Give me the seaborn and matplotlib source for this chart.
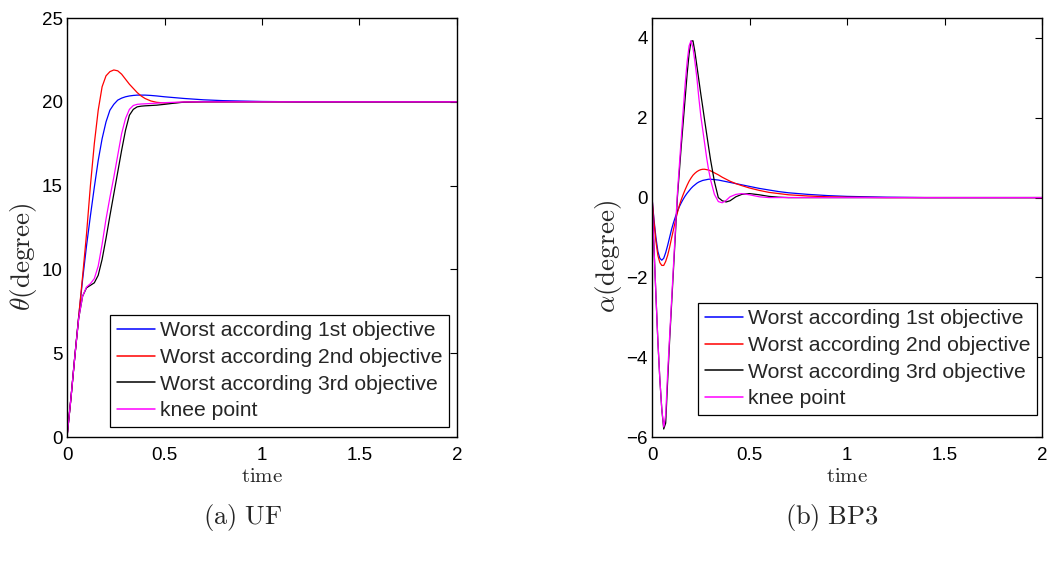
import numpy as np
import pandas as pd
import matplotlib
matplotlib.use("Agg")
import matplotlib.pyplot as plt
import seaborn as sns

# ---------------- data ----------------
series_names = [
    "Worst according 1st objective",
    "Worst according 2nd objective",
    "Worst according 3rd objective",
    "knee point",
]
series_colors = ["#0000ff", "#ff0000", "#000000", "#ff00ff"]

# UF: pitch angle response
t_uf = [0, .02, .04, .06, .08, .10, .12, .14, .16, .18, .20, .22, .24, .26, .28, .30,
        .32, .34, .36, .38, .40, .43, .46, .50, .55, .60, .70, .80, 1.0, 1.2, 1.5, 2.0]
uf_obj1 = [0, 2.3, 4.8, 7.2, 9.4, 11.4, 13.2, 14.9, 16.5, 17.8, 18.8, 19.5, 19.85, 20.1,
           20.22, 20.3, 20.35, 20.38, 20.4, 20.4, 20.4, 20.38, 20.35, 20.3, 20.25, 20.2,
           20.12, 20.07, 20.02, 20.0, 20.0, 20.0]
uf_obj2 = [0, 2.3, 4.8, 7.2, 9.6, 12.1, 15.0, 17.5, 19.5, 20.9, 21.55, 21.8, 21.9, 21.85,
           21.65, 21.35, 21.05, 20.8, 20.55, 20.35, 20.2, 20.05, 19.97, 19.93, 19.95, 19.98,
           20.0, 20.0, 20.0, 20.0, 20.0, 20.0]
uf_obj3 = [0, 2.3, 4.8, 7.1, 8.4, 8.9, 9.05, 9.2, 9.65, 10.6, 11.85, 13.2, 14.5, 15.8,
           17.1, 18.3, 19.2, 19.55, 19.7, 19.74, 19.76, 19.78, 19.8, 19.85, 19.92, 19.98,
           20.0, 20.0, 20.0, 20.0, 20.0, 20.0]
uf_knee = [0, 2.3, 4.8, 7.1, 8.4, 8.95, 9.15, 9.45, 10.2, 11.5, 13.0, 14.3, 15.5, 16.8,
           18.1, 19.0, 19.55, 19.78, 19.85, 19.87, 19.88, 19.9, 19.92, 19.95, 19.97, 19.99,
           20.0, 20.0, 20.0, 20.0, 20.0, 20.0]

# BP3: angle of attack response
t_bp3 = [0, .01, .02, .03, .04, .05, .06, .07, .08, .09, .10, .11, .12, .13, .14, .15,
         .16, .17, .18, .19, .20, .21, .22, .23, .24, .25, .26, .27, .28, .29, .30,
         .32, .34, .36, .38, .40, .43, .46, .50, .55, .60, .65, .70, .80, .90, 1.0,
         1.2, 1.4, 1.6, 2.0]
bp3_obj1 = [0, -0.55, -1.0, -1.35, -1.52, -1.57, -1.52, -1.38, -1.2, -1.0, -0.8, -0.63,
            -0.48, -0.35, -0.23, -0.13, -0.04, 0.04, 0.11, 0.17, 0.23, 0.28, 0.32, 0.36,
            0.39, 0.41, 0.43, 0.44, 0.45, 0.46, 0.46,
            0.45, 0.44, 0.42, 0.40, 0.38, 0.35, 0.32, 0.28, 0.23, 0.19, 0.15, 0.12, 0.08,
            0.05, 0.03, 0.01, 0.0, 0.0, 0.0]
bp3_obj2 = [0, -0.6, -1.1, -1.45, -1.63, -1.7, -1.7, -1.6, -1.45, -1.25, -1.02, -0.8,
            -0.58, -0.38, -0.2, -0.05, 0.08, 0.2, 0.31, 0.41, 0.49, 0.56, 0.61, 0.65,
            0.68, 0.7, 0.71, 0.71, 0.7, 0.69, 0.67,
            0.62, 0.57, 0.51, 0.46, 0.41, 0.35, 0.3, 0.24, 0.18, 0.13, 0.1, 0.07, 0.04,
            0.02, 0.01, 0.0, 0.0, 0.0, 0.0]
bp3_obj3 = [0, -1.25, -2.45, -3.6, -4.55, -5.3, -5.8, -5.65, -4.6, -3.6, -2.7, -1.8,
            -0.9, 0.0, 0.65, 1.3, 1.9, 2.5, 3.1, 3.6, 3.92, 3.93, 3.65, 3.3, 2.95, 2.6,
            2.27, 1.93, 1.6, 1.27, 0.95,
            0.4, 0.0, -0.08, -0.11, -0.08, 0.02, 0.08, 0.1, 0.07, 0.03, 0.01, 0.0, 0.0,
            0.0, 0.0, 0.0, 0.0, 0.0, 0.0]
bp3_knee = [0, -1.25, -2.45, -3.6, -4.55, -5.3, -5.75, -5.45, -4.4, -3.5, -2.6, -1.7,
            -0.8, 0.1, 0.8, 1.5, 2.2, 2.85, 3.4, 3.8, 3.93, 3.75, 3.4, 3.0, 2.5, 2.05,
            1.7, 1.35, 1.0, 0.7, 0.45,
            0.08, -0.1, -0.13, -0.07, 0.02, 0.08, 0.1, 0.07, 0.02, 0.0, 0.0, 0.0, 0.0,
            0.0, 0.0, 0.0, 0.0, 0.0, 0.0]

x_ticks = [0, 0.5, 1, 1.5, 2]
x_ticklabels = ["0", "0.5", "1", "1.5", "2"]
uf_yticks = [0, 5, 10, 15, 20, 25]
uf_yticklabels = ["0", "5", "10", "15", "20", "25"]
bp3_yticks = [-6, -4, -2, 0, 2, 4]
bp3_yticklabels = ["\u22126", "\u22124", "\u22122", "0", "2", "4"]


def long_frame(t, columns):
    parts = []
    for name, vals in zip(series_names, columns):
        parts.append(pd.DataFrame({"time": t, "value": vals, "series": name}))
    return pd.concat(parts, ignore_index=True)


df_uf = long_frame(t_uf, [uf_obj1, uf_obj2, uf_obj3, uf_knee])
df_bp3 = long_frame(t_bp3, [bp3_obj1, bp3_obj2, bp3_obj3, bp3_knee])

# ---------------- style ----------------
sns.set_style("white")
plt.rcParams["font.family"] = ["Liberation Sans", "DejaVu Sans"]
plt.rcParams["mathtext.fontset"] = "cm"

fig = plt.figure(figsize=(10.52, 5.63), dpi=100)
ax1 = fig.add_axes([0.0637, 0.2238, 0.3707, 0.7442])
ax2 = fig.add_axes([0.6198, 0.2238, 0.3707, 0.7442])

palette = dict(zip(series_names, series_colors))


def draw(ax, df, yticks, yticklabels, ylim, ylabel, ylabel_xy, legend_xy):
    sns.lineplot(data=df, x="time", y="value", hue="series", hue_order=series_names,
                 palette=palette, estimator=None, sort=False, linewidth=0.9,
                 legend=False, ax=ax)
    ax.set_xlim(0, 2)
    ax.set_ylim(*ylim)
    ax.set_xticks(x_ticks)
    ax.set_xticklabels(x_ticklabels)
    ax.set_yticks(yticks)
    ax.set_yticklabels(yticklabels)
    ax.tick_params(direction="in", length=5, width=0.8, top=True, right=True,
                   labelsize=13.5, colors="black")
    ax.tick_params(axis="x", pad=7)
    ax.tick_params(axis="y", pad=3)
    for sp in ax.spines.values():
        sp.set_visible(True)
        sp.set_color("black")
        sp.set_linewidth(1.0)
    ax.set_xlabel(r"$\mathrm{time}$", fontsize=15)
    ax.xaxis.set_label_coords(0.5, -0.072)
    ax.set_ylabel(ylabel, fontsize=19.5)
    ax.yaxis.set_label_coords(*ylabel_xy)
    handles = ax.lines[:4]
    leg = ax.legend(handles, series_names, loc="lower left",
                    bbox_to_anchor=legend_xy, bbox_transform=ax.transAxes,
                    borderaxespad=0, fontsize=15.2, frameon=True, fancybox=False,
                    framealpha=1, edgecolor="black", handlelength=1.8,
                    handletextpad=0.25, labelspacing=0.36, borderpad=0.32)
    leg.get_frame().set_linewidth(0.9)
    for line in leg.get_lines():
        line.set_linewidth(1.1)


draw(ax1, df_uf, uf_yticks, uf_yticklabels, (0, 25),
     r"$\theta\mathrm{(degree)}$", (-0.072, 0.43), (0.110, 0.024))
draw(ax2, df_bp3, bp3_yticks, bp3_yticklabels, (-6, 4.5),
     r"$\alpha\mathrm{(degree)}$", (-0.072, 0.43), (0.118, 0.0525))

fig.text(0.231, 0.08, r"$\mathrm{(a)\ UF}$", ha="center", va="center", fontsize=19)
fig.text(0.791, 0.08, r"$\mathrm{(b)\ BP3}$", ha="center", va="center", fontsize=19)

fig.savefig("out.png", dpi=100)
